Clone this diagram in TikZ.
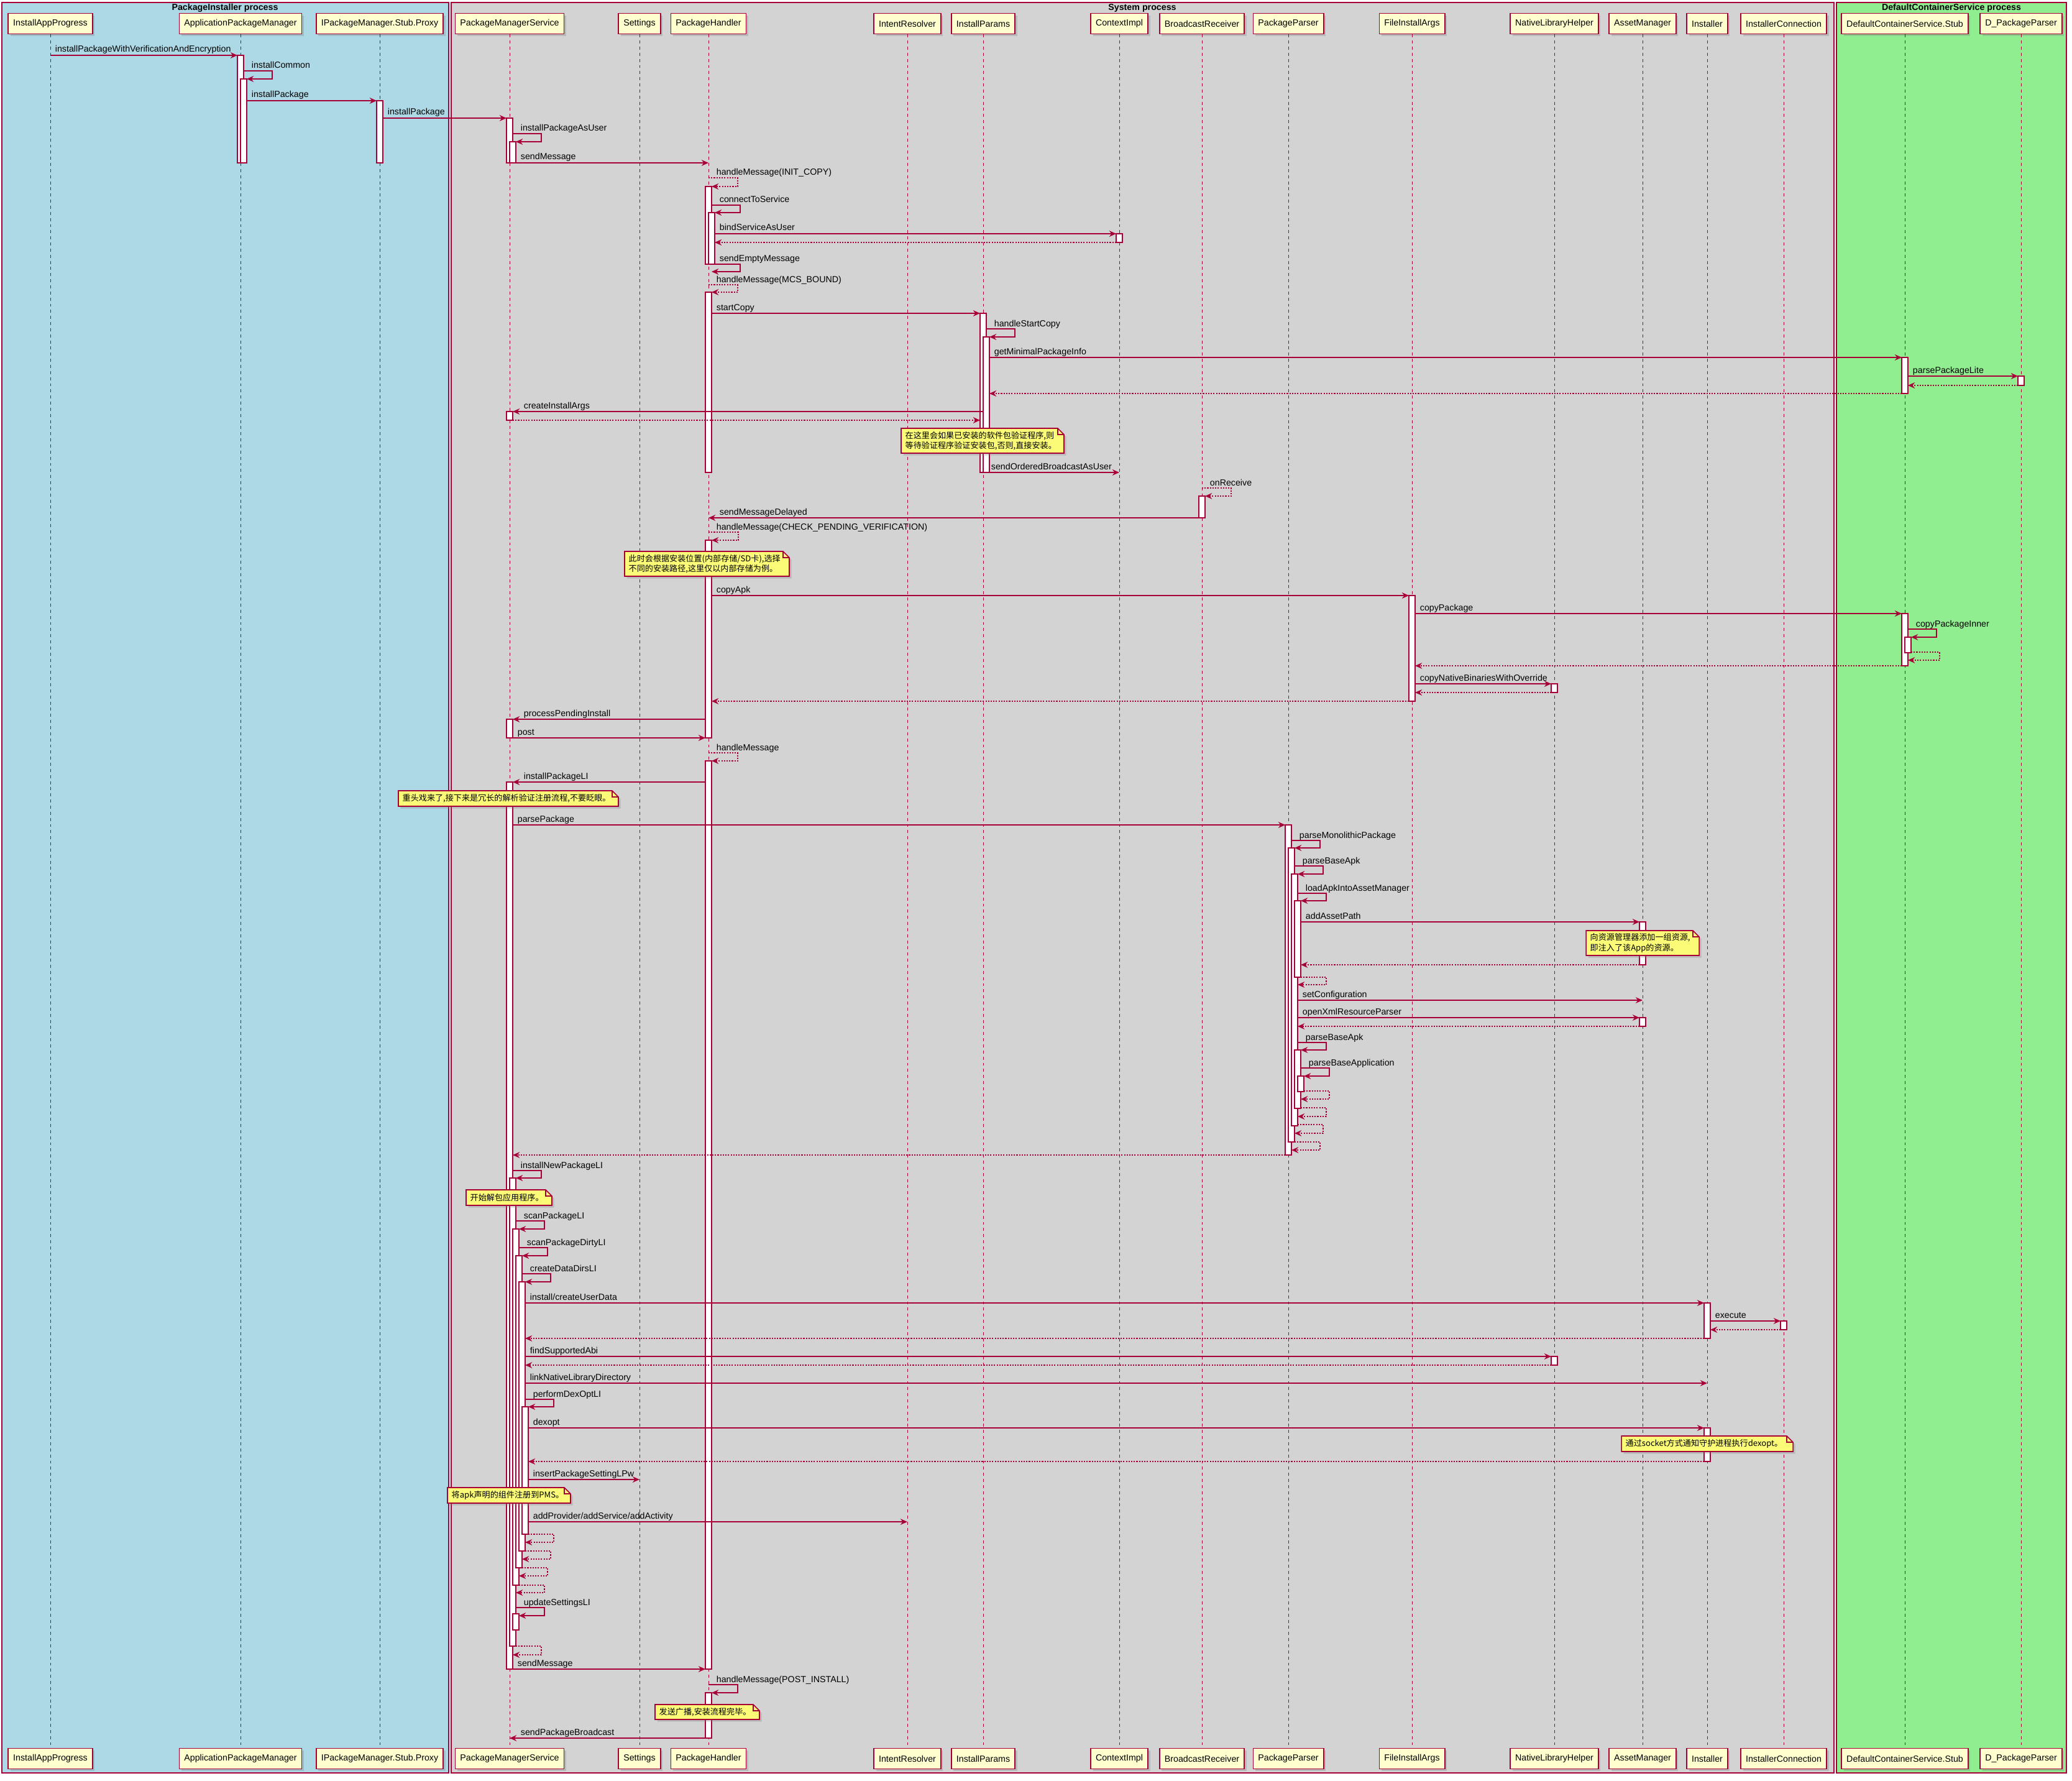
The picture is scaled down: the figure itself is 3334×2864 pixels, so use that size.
\documentclass[tikz,border=0pt]{standalone}
\usepackage{fontspec}
\setmainfont{Liberation Sans}
\newfontfamily\cjk[Scale=0.92]{Noto Sans CJK SC}
\usetikzlibrary{arrows.meta,shadows}
\definecolor{crim}{HTML}{A80036}
\definecolor{partbg}{HTML}{FEFECE}
\definecolor{notebg}{HTML}{FBFB77}
\definecolor{pibg}{HTML}{ADD8E6}
\definecolor{sysbg}{HTML}{D3D3D3}
\definecolor{dcsbg}{HTML}{90EE90}
\begin{document}
\begin{tikzpicture}[x=0.01cm,y=-0.01cm,font=\fontsize{4.05}{4.6}\selectfont,
	grp/.style={draw=crim,line width=0.45pt},
	gtitle/.style={font=\fontsize{4.05}{4.6}\selectfont\bfseries,inner sep=0pt},
	part/.style={draw=crim,fill=partbg,line width=0.45pt,minimum height=0.33cm,inner xsep=0.08cm,inner ysep=0pt,drop shadow={shadow xshift=0.035cm,shadow yshift=-0.035cm,opacity=0.3}},
	lifeline/.style={draw=crim,line width=0.28pt,dash pattern=on 1.4pt off 1.4pt},
	act/.style={draw=crim,fill=white,line width=0.45pt},
	msg/.style={draw=crim,line width=0.5pt,-{Stealth[length=3.2pt,width=2.8pt,inset=1.1pt]}},
	ret/.style={msg,dash pattern=on 0.6pt off 0.6pt},
	mlabel/.style={anchor=base west,inner sep=0pt},
	notebox/.style={draw=crim,fill=notebg,line width=0.45pt,drop shadow={shadow xshift=0.035cm,shadow yshift=-0.035cm,opacity=0.3}},
	notetxt/.style={anchor=west,align=left,inner sep=0pt,font=\fontsize{4.05}{4.6}\selectfont\cjk}]
	\useasboundingbox (0,0) rectangle (3334,2864);

	\fill[pibg] (3,4) rectangle (722,2852);
	\fill[sysbg] (726,4) rectangle (2951,2852);
	\fill[dcsbg] (2955,4) rectangle (3325,2852);
	\draw[grp] (3,4) rectangle (722,2852);
	\draw[grp] (726,4) rectangle (2951,2852);
	\draw[grp] (2955,4) rectangle (3325,2852);
	\node[gtitle] (pititle) at (362,13) {PackageInstaller process};
	\node[gtitle] (systitle) at (1838,13) {System process};
	\node[gtitle] (dcstitle) at (3140,13) {DefaultContainerService process};

	\foreach \nm/\px/\lbl in {iap/81/InstallAppProgress,apm/387/ApplicationPackageManager,proxy/611/IPackageManager.Stub.Proxy,
		pms/820/PackageManagerService,settings/1029/Settings,ph/1140/PackageHandler,ir/1460/IntentResolver,ip/1582/InstallParams,
		ctx/1801/ContextImpl,br/1934/BroadcastReceiver,pp/2073/PackageParser,fia/2272/FileInstallArgs,nlh/2501/NativeLibraryHelper,
		am/2643/AssetManager,inst/2747/Installer,ic/2870/InstallerConnection,dcs/3065/DefaultContainerService.Stub,dpp/3252/D\_PackageParser}{
		\node[part] (\nm) at (\px,38) {\lbl};
		\node[part] (\nm-b) at (\px,2829) {\lbl};
		\draw[lifeline] (\nm.south) -- (\nm-b.north);
	}

	\foreach \xl/\ya/\yb in {382/89/262,387/127/262,606/162/262,815/190/262,820/228/262,
		1135/300/425,1140/342/425,1796/376/390,1135/470/760,1577/504/760,1582/542/760,
		3060/575/633,3247/605/620,815/662/676,1929/798/833,1135/869/1187,2267/958/1128,
		3060/987/1071,3065/1025/1050,2496/1100/1114,815/1157/1187,1135/1224/2685,815/1258/2685,
		2068/1327/1858,2073/1364/1837,2078/1406/1811,2083/1449/1572,2638/1483/1552,2638/1637/1651,
		2083/1689/1783,2088/1731/1756,820/1895/2648,825/1977/2550,830/2020/2522,835/2062/2495,
		2742/2096/2153,2865/2125/2139,2496/2182/2196,840/2263/2468,2742/2297/2351,825/2596/2622,
		1135/2723/2796}{
		\draw[act] (\xl,\ya) rectangle (\xl+10,\yb);
	}

	\foreach \xa/\xb/\y/\lbl [count=\k] in {81/382/89/installPackageWithVerificationAndEncryption,
		397/606/162/installPackage,616/815/190/installPackage,830/1140/262/sendMessage,
		1150/1796/376/bindServiceAsUser,1145/1577/504/startCopy,1592/3060/575/getMinimalPackageInfo,
		3070/3247/605/parsePackageLite,1587/1801/760/sendOrderedBroadcastAsUser,1145/2267/958/copyApk,
		2277/3060/987/copyPackage,2277/2496/1100/copyNativeBinariesWithOverride,825/1135/1187/post,
		825/2068/1327/parsePackage,2093/2638/1483/addAssetPath,2088/2643/1609/setConfiguration,
		2088/2638/1637/openXmlResourceParser,845/2742/2096/{install/createUserData},2752/2865/2125/execute,
		845/2496/2182/findSupportedAbi,845/2747/2225/linkNativeLibraryDirectory,850/2742/2297/dexopt,
		850/1029/2380/insertPackageSettingLPw,850/1460/2448/{addProvider/addService/addActivity},
		825/1135/2685/sendMessage}{
		\draw[msg] (\xa,\y) -- (\xb,\y) node[mlabel] (call\k) at (\xa+7,\y-5) {\lbl};
	}

	\foreach \xa/\xb/\y/\lbl [count=\k] in {1582/825/662/createInstallArgs,1929/1140/833/sendMessageDelayed,
		1135/825/1157/processPendingInstall,1135/825/1258/installPackageLI,1135/820/2796/sendPackageBroadcast}{
		\draw[msg] (\xa,\y) -- (\xb,\y) node[mlabel] (back\k) at (\xb+17,\y-5) {\lbl};
	}

	\foreach \xa/\xb/\y in {1796/1150/390,3247/3070/620,3060/1592/633,825/1577/676,3060/2277/1071,
		2496/2277/1114,2267/1145/1128,2638/2093/1552,2638/2088/1651,2068/825/1858,2865/2752/2139,
		2742/845/2153,2496/845/2196,2742/850/2351}{
		\draw[ret] (\xa,\y) -- (\xb,\y);
	}

	\foreach \xa/\xr/\ya/\xb/\yb/\lbl [count=\k] in {392/438/114/397/127/installCommon,
		825/871/215/830/228/installPackageAsUser,1145/1191/330/1150/342/connectToService,
		1145/1191/425/1145/437/sendEmptyMessage,1587/1633/529/1592/542/handleStartCopy,
		3070/3116/1012/3075/1025/copyPackageInner,2078/2124/1352/2083/1364/parseMonolithicPackage,
		2083/2129/1393/2088/1406/parseBaseApk,2088/2134/1437/2093/1449/loadApkIntoAssetManager,
		2088/2134/1677/2093/1689/parseBaseApk,2093/2139/1718/2098/1731/parseBaseApplication,
		825/871/1883/830/1895/installNewPackageLI,830/876/1964/835/1977/scanPackageLI,
		835/881/2007/840/2020/scanPackageDirtyLI,840/886/2049/845/2062/createDataDirsLI,
		845/891/2251/850/2263/performDexOptLI,830/876/2586/835/2599/updateSettingsLI,
		1140/1187/2710/1145/2723/handleMessage(POST\_INSTALL)}{
		\draw[msg] (\xa,\ya) -- (\xr,\ya) -- (\xr,\yb) -- (\xb,\yb) node[mlabel] (self\k) at (\xa+12,\ya-4) {\lbl};
	}

	\foreach \xa/\xr/\ya/\xb/\yb/\lbl [count=\k] in {1140/1187/286/1145/300/handleMessage(INIT\_COPY),
		1140/1187/458/1145/470/handleMessage(MCS\_BOUND),1934/1981/785/1939/798/onReceive,
		1140/1188/856/1145/869/handleMessage(CHECK\_PENDING\_VERIFICATION),1140/1187/1211/1145/1224/handleMessage,
		3075/3121/1049/3070/1062/{},2093/2134/1572/2088/1584/{},2098/2139/1755/2093/1768/{},
		2093/2134/1782/2088/1796/{},2088/2129/1809/2083/1823/{},2083/2124/1837/2078/1850/{},
		850/891/2468/845/2481/{},845/886/2495/840/2508/{},840/881/2522/835/2535/{},
		835/876/2550/830/2562/{},830/871/2648/825/2662/{}}{
		\draw[ret] (\xa,\ya) -- (\xr,\ya) -- (\xr,\yb) -- (\xb,\yb) node[mlabel] (selfret\k) at (\xa+12,\ya-4) {\lbl};
	}

	\foreach \i/\xa/\ya/\xb/\yb/\txt in {1/1450/689/1712/729/{在这里会如果已安装的软件包验证程序,则\\等待验证程序验证安装包,否则,直接安装。},
		2/1005/887/1270/927/{此时会根据安装位置(内部存储/SD卡),选择\\不同的安装路径,这里仅以内部存储为例。},
		3/641/1272/995/1297/{重头戏来了,接下来是冗长的解析验证注册流程,不要眨眼。},
		4/2552/1497/2734/1537/{向资源管理器添加一组资源,\\即注入了该App的资源。},
		5/750/1914/888/1939/{开始解包应用程序。},
		6/2609/2310/2885/2335/{通过socket方式通知守护进程执行dexopt。},
		7/720/2393/918/2418/{将apk声明的组件注册到PMS。},
		8/1054/2742/1222/2766/{发送广播,安装流程完毕。}}{
		\draw[notebox] (\xa,\ya) -- (\xb-10,\ya) -- (\xb,\ya+10) -- (\xb,\yb) -- (\xa,\yb) -- cycle;
		\draw[crim,line width=0.45pt] (\xb-10,\ya) -- (\xb-10,\ya+10) -- (\xb,\ya+10);
		\node[notetxt] (note\i) at (\xa+6,{(\ya+\yb)/2}) {\txt};
	}
\end{tikzpicture}
\end{document}
